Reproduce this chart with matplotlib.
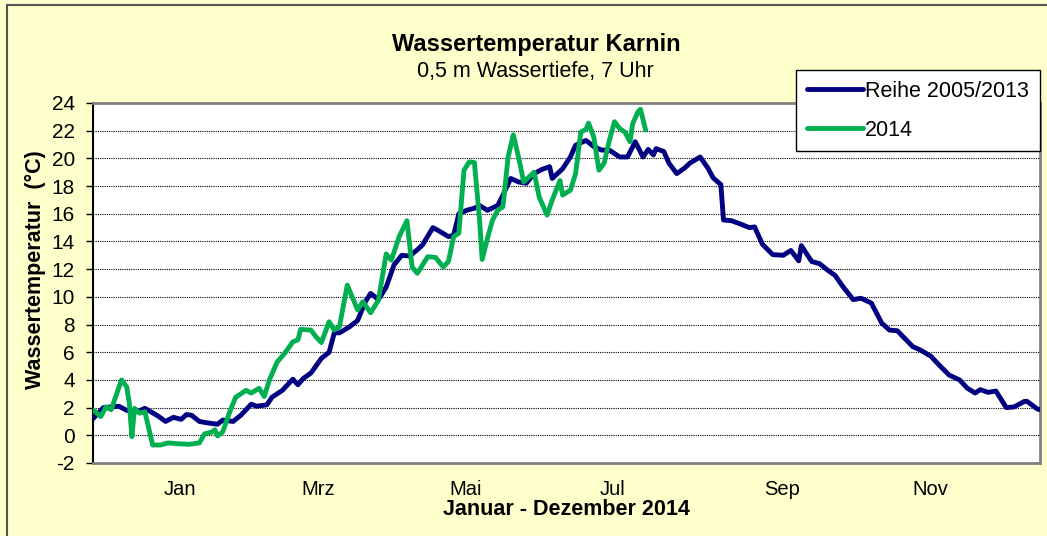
import numpy as np
import matplotlib
matplotlib.use('Agg')
import matplotlib.pyplot as plt
from matplotlib.patches import Rectangle

plt.rcParams['font.family'] = ['Liberation Sans', 'DejaVu Sans']
plt.rcParams['axes.unicode_minus'] = False

# Reihe 2005/2013 (mean), day of year / temperature in degC
mean_day = [0, 4, 10, 13, 17, 20, 25, 28, 31, 34, 36, 38, 41, 44, 48, 50, 54, 57,
            61, 63, 67, 69, 73, 77, 79, 81, 84, 88, 91, 93, 95, 99, 102, 105, 107,
            110, 113, 116, 119, 122, 125, 127, 131, 133, 137, 139, 141, 144, 147,
            149, 152, 156, 158, 161, 164, 167, 170, 173, 176, 177, 181, 184, 186,
            190, 193, 196, 199, 203, 206, 209, 212, 214, 216, 217, 220, 222, 225,
            228, 230, 234, 237, 239, 242, 243, 246, 249, 253, 255, 258, 262, 266,
            269, 272, 273, 277, 280, 283, 286, 289, 293, 296, 300, 304, 307, 310,
            316, 319, 323, 326, 330, 334, 337, 340, 342, 345, 348, 352, 355, 359,
            360, 364, 365]
mean_temp = [1.2, 2.0, 2.1, 1.8, 1.7, 1.95, 1.4, 1.0, 1.3, 1.15, 1.5, 1.45, 1.0, 0.9,
             0.8, 1.1, 1.0, 1.45, 2.25, 2.1, 2.2, 2.75, 3.25, 4.05, 3.65, 4.1, 4.5,
             5.55, 6.0, 7.4, 7.4, 7.85, 8.3, 9.65, 10.25, 9.8, 10.7, 12.3, 13.0,
             12.95, 13.4, 13.75, 15.0, 14.8, 14.35, 14.45, 16.0, 16.25, 16.4, 16.6,
             16.25, 16.6, 17.35, 18.55, 18.3, 18.2, 18.9, 19.2, 19.4, 18.55, 19.25,
             20.1, 20.95, 21.3, 20.85, 20.6, 20.6, 20.1, 20.1, 21.2, 20.1, 20.65,
             20.25, 20.7, 20.5, 19.65, 18.9, 19.3, 19.65, 20.1, 19.3, 18.6, 18.1,
             15.55, 15.5, 15.3, 15.0, 15.05, 13.8, 13.05, 13.0, 13.35, 12.6, 13.7,
             12.55, 12.4, 11.95, 11.55, 10.75, 9.8, 9.9, 9.55, 8.1, 7.6, 7.55, 6.4,
             6.15, 5.7, 5.1, 4.35, 4.0, 3.4, 3.05, 3.3, 3.1, 3.2, 2.0, 2.05, 2.45,
             2.45, 1.9, 1.85]

# 2014
y14_day = [0, 3, 5, 7, 11, 13, 14, 15, 16, 18, 20, 23, 26, 29, 32, 37, 41, 43, 46,
           47, 48, 50, 53, 55, 59, 61, 64, 66, 68, 71, 74, 77, 79, 80, 84, 86, 88,
           91, 93, 95, 98, 102, 104, 107, 110, 113, 115, 118, 121, 123, 125, 129,
           132, 135, 137, 139, 141, 143, 145, 147, 149, 150, 152, 154, 156, 158,
           160, 162, 164, 166, 168, 170, 172, 175, 177, 180, 181, 184, 186, 188,
           190, 191, 193, 195, 197, 199, 201, 203, 205, 207, 208, 210, 211, 213]
y14_temp = [1.85, 1.35, 2.05, 1.85, 4.0, 3.5, 2.3, -0.1, 1.95, 1.6, 1.7, -0.7, -0.7,
            -0.55, -0.6, -0.65, -0.55, 0.1, 0.25, 0.4, -0.05, 0.25, 1.85, 2.75,
            3.25, 3.05, 3.4, 2.8, 4.0, 5.3, 5.95, 6.75, 6.9, 7.65, 7.6, 7.1, 6.7,
            8.2, 7.6, 7.85, 10.85, 9.05, 9.65, 8.85, 9.75, 13.1, 12.65, 14.35, 15.5,
            12.15, 11.7, 12.9, 12.85, 12.15, 12.55, 14.35, 14.6, 19.15, 19.75, 19.7,
            15.55, 12.7, 14.2, 15.55, 16.25, 16.5, 20.1, 21.7, 20.1, 18.3, 18.65,
            19.0, 17.2, 15.9, 17.0, 18.4, 17.35, 17.7, 18.9, 21.9, 22.1, 22.55,
            21.55, 19.15, 19.65, 21.3, 22.65, 22.15, 21.9, 21.2, 22.5, 23.35, 23.55,
            22.05]

month_labels = ['Jan', 'Mrz', 'Mai', 'Jul', 'Sep', 'Nov']
month_pos = [33.5, 86.7, 143.8, 200.4, 265.6, 322.6]

fig = plt.figure(figsize=(10.47, 5.36), dpi=100)
fig.patch.set_facecolor('#FFFFCC')
fig.patches.append(Rectangle((7 / 1047, -0.1), 1.2, 1.1 - 5 / 536,
                             transform=fig.transFigure, fill=False,
                             edgecolor='#555555', linewidth=1.5))

ax = fig.add_axes([93 / 1047, 1 - 463 / 536, 947 / 1047, 360 / 536])
ax.set_facecolor('white')

ax.plot(mean_day, mean_temp, color='#000080', lw=3.5, solid_joinstyle='round',
        solid_capstyle='round', label='Reihe 2005/2013', zorder=3)
ax.plot(y14_day, y14_temp, color='#00B050', lw=3.5, solid_joinstyle='round',
        solid_capstyle='round', label='2014', zorder=4)

ax.set_xlim(0, 365)
ax.set_ylim(-2, 24)
ax.set_yticks(np.arange(-2, 25, 2))
ax.set_xticks(month_pos)
ax.set_xticklabels(month_labels)
ax.tick_params(axis='x', length=0, pad=12, labelsize=14.5)
ax.tick_params(axis='y', length=5, width=1, direction='out', pad=8, labelsize=15)
ax.yaxis.grid(True, color='black', linestyle=(0, (1, 1)), linewidth=0.8)
ax.set_axisbelow(True)

for s in ['top', 'right', 'bottom']:
    ax.spines[s].set_color('#808080')
    ax.spines[s].set_linewidth(2)
ax.spines['left'].set_color('black')
ax.spines['left'].set_linewidth(1.5)

ax.set_xlabel('Januar - Dezember 2014', fontsize=15.5, fontweight='bold', labelpad=0)
ax.set_ylabel('Wassertemperatur  (°C)', fontsize=15.5, fontweight='bold')
ax.yaxis.set_label_coords(-0.05, (463 - 270) / 360)

fig.text(536 / 1047, 1 - 44 / 536, 'Wassertemperatur Karnin', ha='center',
         va='center', fontsize=17, fontweight='bold')
fig.text(535 / 1047, 1 - 71 / 536, '0,5 m Wassertiefe, 7 Uhr', ha='center',
         va='center', fontsize=15.5)

leg = fig.legend(loc='upper right', bbox_to_anchor=(1040 / 1047, 1 - 70 / 536),
                 fontsize=15.5, frameon=True, fancybox=False, handlelength=2.6,
                 handletextpad=0.1, labelspacing=0.83, borderpad=0.5,
                 borderaxespad=0)
leg.get_frame().set_edgecolor('black')
leg.get_frame().set_linewidth(1)
leg.get_frame().set_facecolor('white')
leg.get_frame().set_alpha(1)

fig.savefig('out.png', dpi=100, facecolor=fig.get_facecolor())
